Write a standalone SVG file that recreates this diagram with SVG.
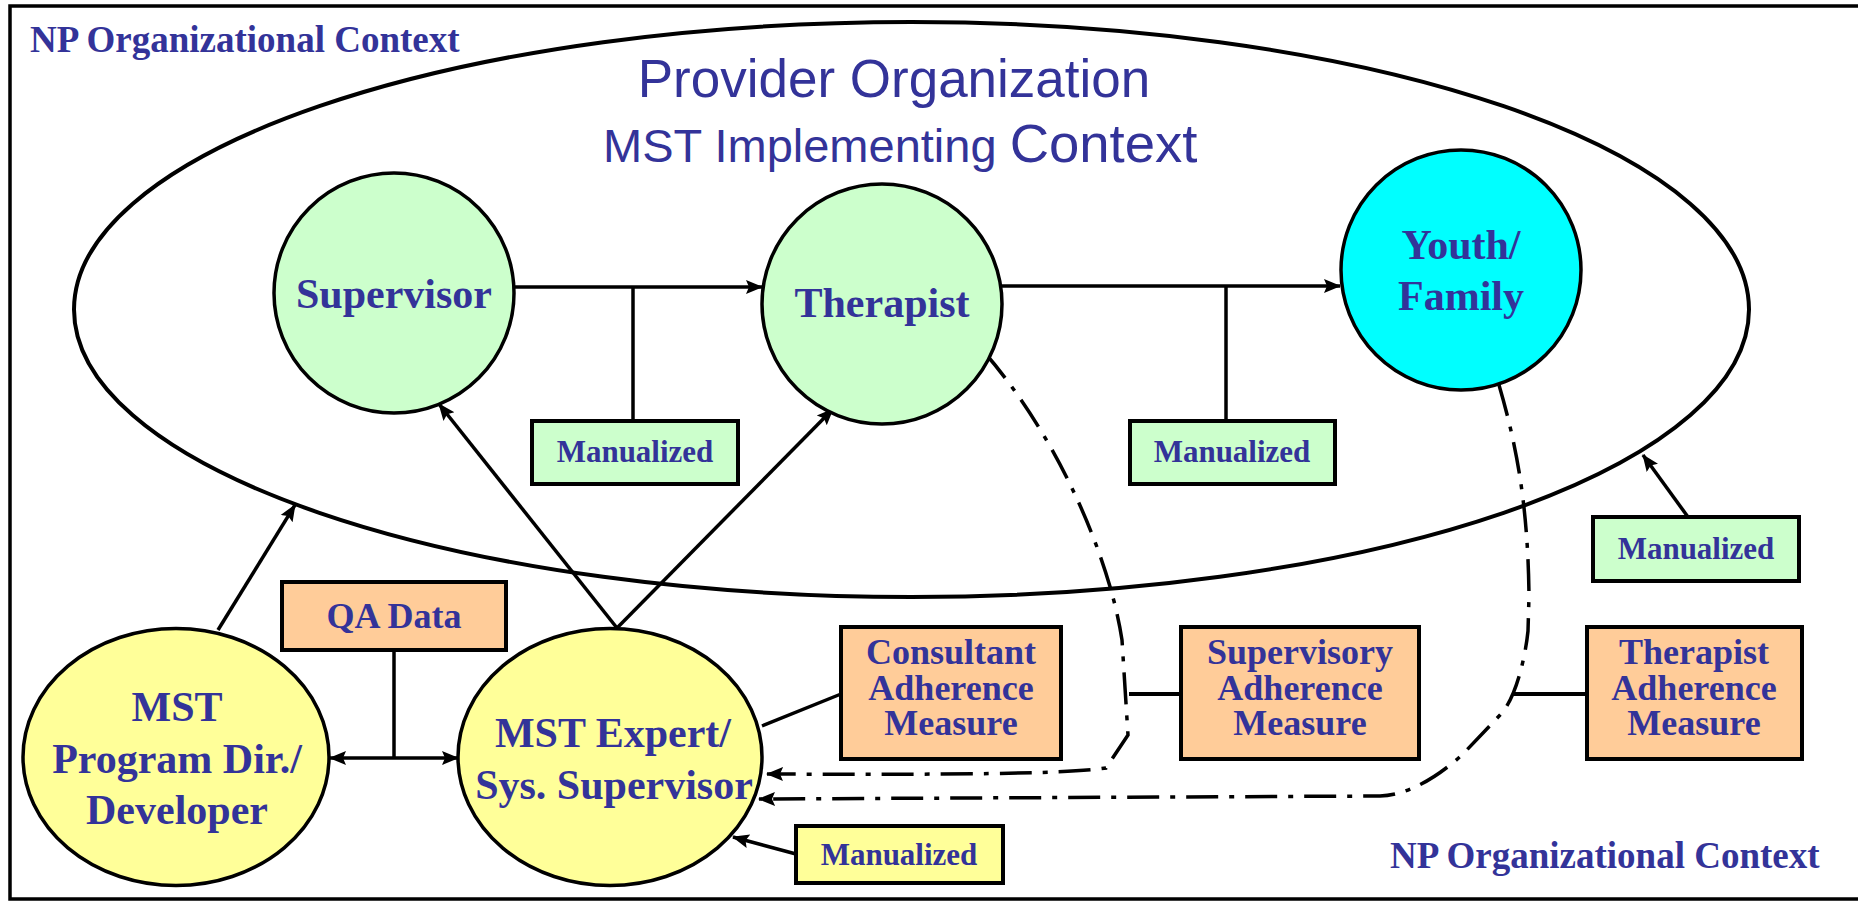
<svg xmlns="http://www.w3.org/2000/svg" width="1858" height="901" viewBox="0 0 1858 901">
<defs>
<style>
.t{font-family:"Liberation Serif","Times New Roman",serif;font-weight:bold;fill:#333399;text-anchor:middle}
.n{font-size:42px}
.b{font-size:36px}
.m{font-size:31px}
.s{font-family:"Liberation Sans",Arial,sans-serif;fill:#333399}
.ln{fill:none;stroke:#000;stroke-width:3.5}
.dd{fill:none;stroke:#000;stroke-width:3.5;stroke-dasharray:32 11 5 11}
.box{stroke:#000;stroke-width:4}
.nd{stroke:#000;stroke-width:3.5}
</style>
<marker id="ah" markerUnits="userSpaceOnUse" markerWidth="18" markerHeight="16" refX="16" refY="7" orient="auto-start-reverse" viewBox="0 0 18 14">
<path d="M0,0 L17,7 L0,14 L3,7 z" fill="#000"/>
</marker>
</defs>
<rect x="0" y="0" width="1858" height="901" fill="#fff"/>
<rect x="10" y="6" width="1870" height="893" fill="none" stroke="#000" stroke-width="3.5"/>
<text class="t" x="30" y="52" style="font-size:37px;text-anchor:start">NP Organizational Context</text>
<text class="t" x="1390" y="868" style="font-size:37px;text-anchor:start">NP Organizational Context</text>

<g id="provider">
<ellipse cx="911.5" cy="309.5" rx="837.5" ry="287.5" fill="none" stroke="#000" stroke-width="4"/>
<text class="s" x="894" y="97" font-size="53" text-anchor="middle">Provider Organization</text>
<text class="s" x="603" y="162"><tspan font-size="47">MST Implementing </tspan><tspan font-size="54.5">Context</tspan></text>
</g>

<g id="connectors">
<path class="ln" d="M514,287 L762,287" marker-end="url(#ah)"/>
<path class="ln" d="M633,287 L633,421"/>
<path class="ln" d="M1002,286 L1340,286" marker-end="url(#ah)"/>
<path class="ln" d="M1226,286 L1226,421"/>
<path class="ln" d="M1688,517 L1643,455" marker-end="url(#ah)"/>
<path class="ln" d="M218,630 L295,505" marker-end="url(#ah)"/>
<path class="ln" d="M617,628 L439,404" marker-end="url(#ah)"/>
<path class="ln" d="M617,628 L833,409" marker-end="url(#ah)"/>
<path class="ln" d="M330,758 L458,758" marker-start="url(#ah)" marker-end="url(#ah)"/>
<path class="ln" d="M394,650 L394,758"/>
<path class="ln" d="M841,694 L762,726"/>
<path class="ln" d="M796,854 L733,837" marker-end="url(#ah)"/>
<path class="ln" d="M1129,694 L1181,694" style="stroke-width:4"/>
<path class="ln" d="M1513,694 L1587,694" style="stroke-width:4"/>
<path class="dd" d="M985,353 C1060,440 1110,560 1122,640 L1128,735 L1106,768 C1070,773 1000,775 767,774" marker-end="url(#ah)"/>
<path class="dd" d="M1499,385 C1515,440 1528,500 1529,596 L1528,631 C1525,660 1515,700 1500,715 L1463,754 C1440,775 1410,795 1380,796 L759,799" marker-end="url(#ah)"/>
</g>

<g id="supervisor">
<circle class="nd" cx="394" cy="293" r="120" fill="#CCFFCC"/>
<text class="t n" x="394" y="308">Supervisor</text>
</g>
<g id="therapist">
<circle class="nd" cx="882" cy="304" r="120" fill="#CCFFCC"/>
<text class="t n" x="882" y="317">Therapist</text>
</g>
<g id="youth">
<circle class="nd" cx="1461" cy="270" r="120" fill="#00FFFF"/>
<text class="t n" x="1461" y="259">Youth/</text>
<text class="t n" x="1461" y="310">Family</text>
</g>
<g id="programdir">
<ellipse class="nd" cx="176" cy="757" rx="153" ry="128.5" fill="#FFFF99"/>
<text class="t n" x="177" y="721">MST</text>
<text class="t n" x="177" y="773">Program Dir./</text>
<text class="t n" x="177" y="824">Developer</text>
</g>
<g id="expert">
<ellipse class="nd" cx="610" cy="757" rx="152" ry="128.5" fill="#FFFF99"/>
<text class="t n" x="613" y="747">MST Expert/</text>
<text class="t n" x="614" y="799">Sys. Supervisor</text>
</g>
<g id="qadata">
<rect class="box" x="282" y="582" width="224" height="68" fill="#FFCC99"/>
<text class="t b" x="394" y="628">QA Data</text>
</g>
<g id="manualized1">
<rect class="box" x="532" y="421" width="206" height="63" fill="#CCFFCC"/>
<text class="t m" x="635" y="462">Manualized</text>
</g>
<g id="manualized2">
<rect class="box" x="1130" y="421" width="205" height="63" fill="#CCFFCC"/>
<text class="t m" x="1232" y="462">Manualized</text>
</g>
<g id="manualized3">
<rect class="box" x="1593" y="517" width="206" height="64" fill="#CCFFCC"/>
<text class="t m" x="1696" y="559">Manualized</text>
</g>
<g id="manualized4">
<rect class="box" x="796" y="826" width="207" height="57" fill="#FFFF99"/>
<text class="t m" x="899" y="865">Manualized</text>
</g>
<g id="consultant">
<rect class="box" x="841" y="627" width="220" height="132" fill="#FFCC99"/>
<text class="t b" x="951" y="664">Consultant</text>
<text class="t b" x="951" y="700">Adherence</text>
<text class="t b" x="951" y="735">Measure</text>
</g>
<g id="supervisory">
<rect class="box" x="1181" y="627" width="238" height="132" fill="#FFCC99"/>
<text class="t b" x="1300" y="664">Supervisory</text>
<text class="t b" x="1300" y="700">Adherence</text>
<text class="t b" x="1300" y="735">Measure</text>
</g>
<g id="therapistadh">
<rect class="box" x="1587" y="627" width="215" height="132" fill="#FFCC99"/>
<text class="t b" x="1694" y="664">Therapist</text>
<text class="t b" x="1694" y="700">Adherence</text>
<text class="t b" x="1694" y="735">Measure</text>
</g>
</svg>
